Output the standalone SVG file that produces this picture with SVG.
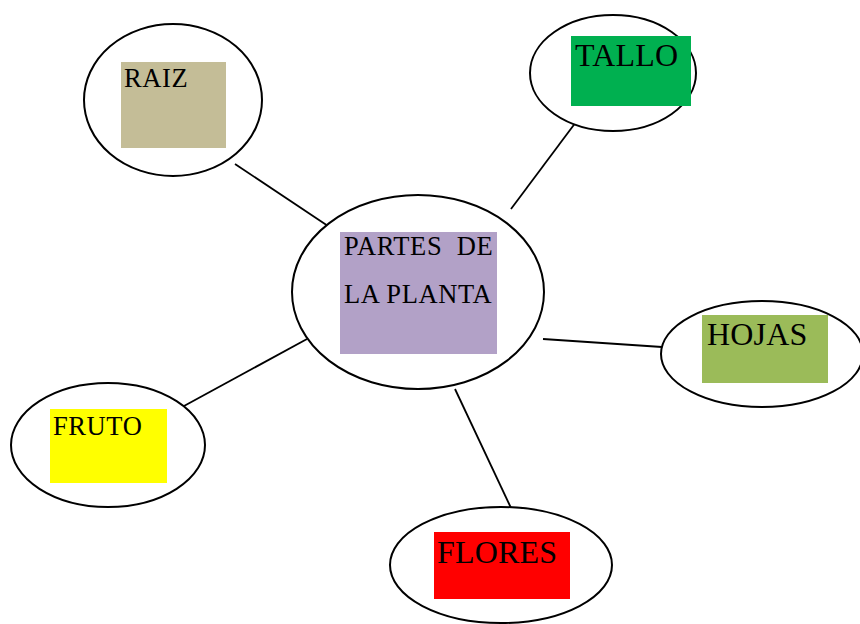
<svg xmlns="http://www.w3.org/2000/svg" width="860" height="624" viewBox="0 0 860 624">
<style>
.e{fill:#fff;stroke:#000;stroke-width:2}
.t{font-family:"Liberation Serif","Times New Roman",serif;fill:#000;white-space:pre}
.s{font-size:26.5px;letter-spacing:0.6px}
.b{font-size:32px;letter-spacing:0.2px}
#connectors line{stroke:#000;stroke-width:1.8}
</style>
<rect width="860" height="624" fill="#fff"/>
<g id="connectors">
<line x1="235" y1="164" x2="331" y2="228"/>
<line x1="576" y1="122" x2="511" y2="209"/>
<line x1="543" y1="339" x2="662" y2="347"/>
<line x1="184" y1="406" x2="307" y2="339"/>
<line x1="455" y1="389" x2="511" y2="508"/>
</g>
<g id="center">
<ellipse class="e" cx="418" cy="292" rx="126" ry="97"/>
<rect x="340" y="232" width="157" height="122" fill="#B2A1C7"/>
<text class="t s" x="344" y="255" xml:space="preserve">PARTES  DE</text>
<text class="t s" x="344" y="303">LA PLANTA</text>
</g>
<g id="raiz">
<ellipse class="e" cx="173" cy="100" rx="89" ry="76"/>
<rect x="121" y="62" width="105" height="86" fill="#C4BD97"/>
<text class="t s" x="124" y="87">RAIZ</text>
</g>
<g id="tallo">
<ellipse class="e" cx="613" cy="73" rx="83" ry="58"/>
<rect x="571" y="36" width="120" height="70" fill="#00B050"/>
<text class="t b" x="575" y="66">TALLO</text>
</g>
<g id="hojas">
<ellipse class="e" cx="762" cy="354" rx="101" ry="53"/>
<rect x="702" y="315" width="126" height="68" fill="#9BBB59"/>
<text class="t b" x="707" y="345">HOJAS</text>
</g>
<g id="flores">
<ellipse class="e" cx="501" cy="565" rx="111" ry="58"/>
<rect x="434" y="532" width="136" height="67" fill="#FF0000"/>
<text class="t b" x="437" y="563">FLORES</text>
</g>
<g id="fruto">
<ellipse class="e" cx="108" cy="445" rx="97" ry="62"/>
<rect x="50" y="409" width="117" height="74" fill="#FFFF00"/>
<text class="t s" x="53" y="435">FRUTO</text>
</g>
</svg>
